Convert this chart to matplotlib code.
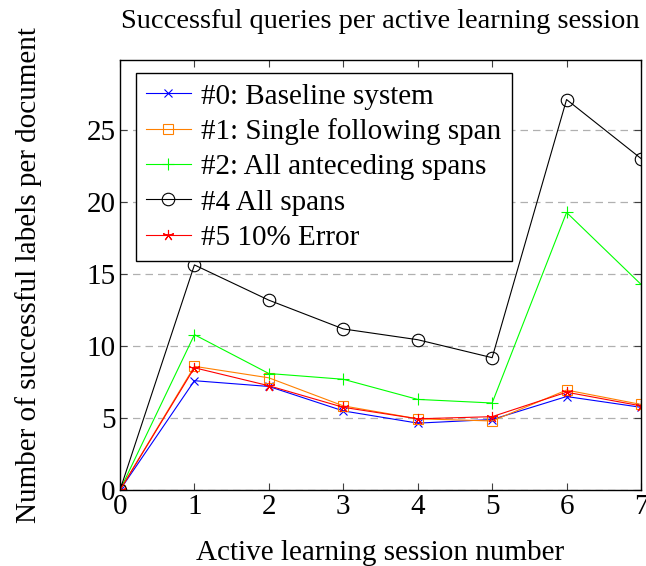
import matplotlib
matplotlib.use("Agg")
import matplotlib.pyplot as plt

sessions = [0, 1, 2, 3, 4, 5, 6, 7]
baseline = [0, 7.6, 7.2, 5.5, 4.65, 4.9, 6.5, 5.75]
single_following = [0, 8.6, 7.8, 5.85, 4.95, 4.8, 6.95, 5.95]
all_anteceding = [0, 10.8, 8.1, 7.7, 6.3, 6.05, 19.3, 14.3]
all_spans = [0, 15.65, 13.2, 11.2, 10.45, 9.2, 27.15, 23.05]
error10 = [0, 8.5, 7.25, 5.75, 4.95, 5.1, 6.8, 5.85]

labels = ["#0: Baseline system", "#1: Single following span",
          "#2: All anteceding spans", "#4 All spans", "#5 10% Error"]
yticks = [0, 5, 10, 15, 20, 25]

plt.rcParams['font.family'] = ['Liberation Serif', 'DejaVu Serif']
plt.rcParams['mathtext.fontset'] = 'stix'

FS = 21
fig = plt.figure(figsize=(6.46, 5.66), dpi=100)
ax = fig.add_axes([120/646, 1-490/566, (641-120)/646, (490-60)/566])

lw = 0.8
ax.plot(sessions, baseline, color=(0, 0, 1), marker='x', ms=6, mew=0.8, lw=lw, label=labels[0])
ax.plot(sessions, single_following, color=(1, 0.5, 0), marker='s', ms=7.5, mfc='none', mew=0.8, lw=lw, label=labels[1])
ax.plot(sessions, all_anteceding, color=(0, 1, 0), marker='+', ms=9, mew=0.8, lw=lw, label=labels[2])
ax.plot(sessions, all_spans, color='black', marker='o', ms=9, mfc='none', mew=0.8, lw=lw, label=labels[3])
ax.plot(sessions, error10, color=(1, 0, 0), marker=(5, 2, 0), ms=8, mew=0.8, lw=lw, label=labels[4])

ax.set_xlim(0, 7)
ax.set_ylim(0, 29.9)
ax.set_xticks(sessions)
ax.set_yticks(yticks)
ax.tick_params(direction='in', top=True, right=True, labelsize=FS, length=5, width=0.8, color='#404040', pad=3)
ax.yaxis.grid(True, linestyle=(0, (6, 4)), color='#b0b0b0', lw=0.9)
ax.set_axisbelow(True)
for s in ax.spines.values():
    s.set_linewidth(1.0)

ax.set_xlabel("Active learning session number", fontsize=FS, labelpad=14)
ax.set_ylabel("Number of successful labels per document", fontsize=FS, labelpad=32)
ax.set_title("Successful queries per active learning session", fontsize=20.5, pad=23)

leg = ax.legend(loc='upper left', bbox_to_anchor=(0.03, 0.97), fontsize=FS,
                frameon=True, fancybox=False, edgecolor='black', framealpha=1,
                handlelength=1.55, handletextpad=0.35, labelspacing=0.3,
                borderpad=0.35, borderaxespad=0)
leg.get_frame().set_linewidth(1.0)

fig.savefig("out.png", dpi=100)
